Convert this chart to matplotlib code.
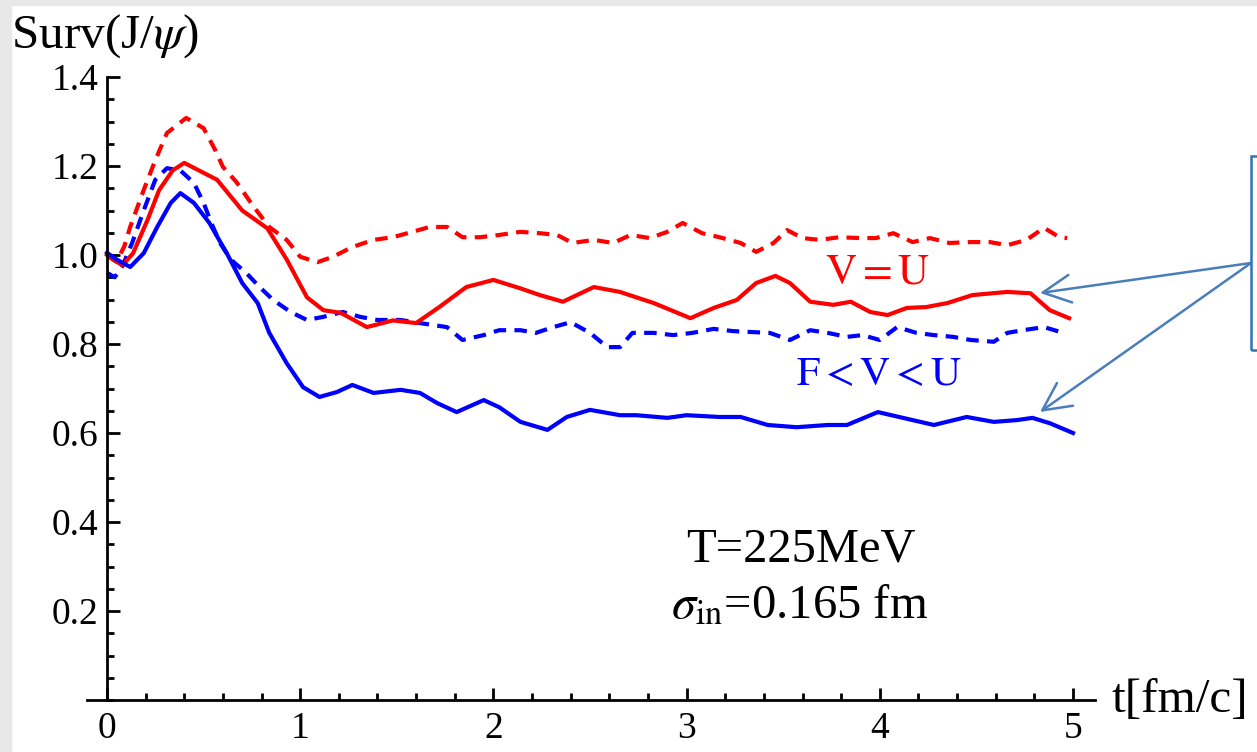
import matplotlib.pyplot as plt
from matplotlib.patches import Rectangle

plt.rcParams['font.family'] = ['Liberation Serif', 'DejaVu Serif']
plt.rcParams['mathtext.fontset'] = 'stix'

# V=U, solid red
t_vu = [0.0, 0.03, 0.08, 0.135, 0.21, 0.27, 0.34, 0.40, 0.57, 0.70, 0.83, 0.93, 1.035,
        1.12, 1.21, 1.345, 1.48, 1.60, 1.72, 1.86, 2.0, 2.14, 2.24, 2.36, 2.52, 2.655,
        2.83, 3.02, 3.14, 3.26, 3.36, 3.46, 3.535, 3.64, 3.76, 3.85, 3.95, 4.04, 4.14,
        4.24, 4.35, 4.48, 4.66, 4.78, 4.88, 4.98]
s_vu = [1.0, 0.99, 0.977, 1.004, 1.079, 1.146, 1.19, 1.207, 1.169, 1.10, 1.06, 0.99, 0.905,
        0.876, 0.87, 0.838, 0.853, 0.847, 0.883, 0.928, 0.944, 0.925, 0.91, 0.895, 0.928, 0.917,
        0.892, 0.858, 0.881, 0.899, 0.937, 0.953, 0.937, 0.895, 0.888, 0.895, 0.872, 0.865, 0.881,
        0.883, 0.892, 0.91, 0.917, 0.914, 0.876, 0.858]

# V=U, dashed red
t_vu2 = [0.0, 0.05, 0.09, 0.12, 0.19, 0.25, 0.31, 0.41, 0.50, 0.56, 0.60, 0.67, 0.76, 0.84,
         0.93, 1.0, 1.09, 1.17, 1.27, 1.38, 1.48, 1.58, 1.67, 1.76, 1.84, 1.93, 2.03, 2.14,
         2.24, 2.33, 2.41, 2.52, 2.62, 2.71, 2.81, 2.90, 2.98, 3.08, 3.17, 3.28, 3.36, 3.45,
         3.52, 3.60, 3.69, 3.79, 3.90, 3.98, 4.07, 4.17, 4.26, 4.36, 4.47, 4.57, 4.66, 4.76,
         4.85, 4.93, 4.97]
s_vu2 = [1.0, 0.985, 1.02, 1.063, 1.146, 1.213, 1.274, 1.308, 1.285, 1.236, 1.198, 1.164, 1.108, 1.063,
         1.034, 0.996, 0.984, 0.996, 1.018, 1.034, 1.04, 1.052, 1.063, 1.063, 1.04, 1.04, 1.045, 1.052,
         1.049, 1.045, 1.027, 1.034, 1.027, 1.045, 1.038, 1.052, 1.072, 1.049, 1.04, 1.027, 1.007, 1.027,
         1.056, 1.038, 1.034, 1.04, 1.038, 1.038, 1.049, 1.029, 1.038, 1.027, 1.029, 1.029, 1.022, 1.034,
         1.061, 1.04, 1.038]

# F<V<U, solid blue
t_fvu = [0.0, 0.05, 0.12, 0.19, 0.26, 0.33, 0.38, 0.45, 0.53, 0.62, 0.70, 0.78, 0.84, 0.93,
         1.015, 1.10, 1.19, 1.27, 1.38, 1.52, 1.62, 1.71, 1.81, 1.95, 2.03, 2.14, 2.28, 2.38,
         2.50, 2.655, 2.74, 2.90, 3.0, 3.17, 3.28, 3.42, 3.57, 3.73, 3.83, 3.99, 4.10, 4.28,
         4.45, 4.59, 4.71, 4.79, 4.88, 5.0]
s_fvu = [1.005, 0.99, 0.973, 1.004, 1.063, 1.117, 1.139, 1.117, 1.072, 1.004, 0.937, 0.892, 0.825, 0.757,
         0.703, 0.681, 0.692, 0.708, 0.69, 0.697, 0.69, 0.667, 0.647, 0.674, 0.658, 0.625, 0.607, 0.636,
         0.652, 0.64, 0.64, 0.634, 0.64, 0.636, 0.636, 0.618, 0.613, 0.618, 0.618, 0.647, 0.636, 0.618,
         0.636, 0.625, 0.629, 0.634, 0.622, 0.60]

# F<V<U, dashed blue
t_fvu2 = [0.0, 0.04, 0.08, 0.13, 0.19, 0.25, 0.31, 0.38, 0.45, 0.50, 0.54, 0.585, 0.64, 0.72,
          0.79, 0.86, 0.95, 1.035, 1.12, 1.22, 1.31, 1.40, 1.52, 1.62, 1.76, 1.84, 1.95, 2.03,
          2.14, 2.22, 2.31, 2.40, 2.50, 2.59, 2.655, 2.72, 2.83, 2.93, 3.03, 3.14, 3.24, 3.33,
          3.43, 3.535, 3.64, 3.73, 3.83, 3.91, 4.0, 4.09, 4.19, 4.28, 4.38, 4.47, 4.59, 4.66,
          4.74, 4.85, 4.95]
s_fvu2 = [0.96, 0.95, 0.975, 1.027, 1.10, 1.169, 1.195, 1.19, 1.162, 1.117, 1.072, 1.027, 0.99, 0.96,
          0.928, 0.899, 0.872, 0.854, 0.861, 0.872, 0.861, 0.854, 0.854, 0.847, 0.838, 0.809, 0.82, 0.831,
          0.831, 0.825, 0.838, 0.849, 0.825, 0.793, 0.793, 0.825, 0.825, 0.82, 0.825, 0.834, 0.829, 0.827,
          0.825, 0.809, 0.831, 0.825, 0.816, 0.82, 0.809, 0.838, 0.825, 0.82, 0.816, 0.809, 0.805, 0.825,
          0.831, 0.838, 0.825]

W, H = 1257, 752
fig = plt.figure(figsize=(W / 100, H / 100), dpi=100)
fig.patch.set_facecolor('white')

# grey frame along the left and top edge
fig.add_artist(Rectangle((0, 0), 11 / W, 1, transform=fig.transFigure, color='#e8e8e8', zorder=0))
fig.add_artist(Rectangle((0, 1 - 5 / H), 1, 5 / H, transform=fig.transFigure, color='#e8e8e8', zorder=0))

ax = fig.add_axes([86.7 / W, 52 / H, 1008.5 / W, 623 / H])
ax.set_xlim(-0.105, 5.115)
ax.set_ylim(0, 1.4)

dash = (0, (3, 2))
kw = dict(lw=3, solid_joinstyle='round', dash_joinstyle='round')
ax.plot(t_vu2, s_vu2, color='#ff0000', ls=dash, **kw)
ax.plot(t_fvu2, s_fvu2, color='#0000ff', ls=dash, **kw)
ax.plot(t_vu, s_vu, color='#ff0000', **kw)
ax.plot(t_fvu, s_fvu, color='#0000ff', **kw)

for s in ['top', 'right']:
    ax.spines[s].set_visible(False)
ax.spines['left'].set_position(('data', 0))
for s in ['left', 'bottom']:
    ax.spines[s].set_linewidth(2)
ax.patch.set_alpha(0)

ax.set_xticks([0, 1, 2, 3, 4, 5])
ax.set_xticks([i * 0.2 for i in range(26)], minor=True)
ax.set_yticks([0.2, 0.4, 0.6, 0.8, 1.0, 1.2, 1.4])
ax.set_yticklabels(['0.2', '0.4', '0.6', '0.8', '1.0', '1.2', '1.4'])
ax.set_yticks([i * 0.05 for i in range(29)], minor=True)
ax.tick_params(which='both', direction='in', width=2, labelsize=27)
ax.tick_params(axis='x', which='major', length=9, pad=8)
ax.tick_params(axis='x', which='minor', length=5)
ax.tick_params(axis='y', which='major', length=9, pad=6)
ax.tick_params(axis='y', which='minor', length=5)

fig.text(11 / W, 1 - 36 / H, r'Surv(J/$\psi$)', fontsize=35.5, va='center', ha='left')
fig.text(1112 / W, 1 - 700 / H, 't[fm/c]', fontsize=35.5, va='center', ha='left')
fig.text(801 / W, 1 - 549 / H, 'T=225MeV', fontsize=35, va='center', ha='center')
fig.text(800 / W, 1 - 606 / H, r'$\sigma_{\rm in}$=0.165 fm', fontsize=35, va='center', ha='center')
fig.text(878 / W, 1 - 273 / H, r'$\mathrm{V}=\mathrm{U}$', fontsize=31, color='#ff0000',
         va='center', ha='center')
fig.text(879 / W, 1 - 375 / H, r'$\mathrm{F}<\mathrm{V}<\mathrm{U}$', fontsize=30, color='#0000ff',
         va='center', ha='center')

# callout box with arrows to the solid curves
fig.add_artist(Rectangle((1251 / W, 1 - 350 / H), 60 / W, 194 / H, transform=fig.transFigure,
                         fill=False, edgecolor='#2e75b6', lw=1.8, clip_on=False))
for tip in [(1040, 293), (1040, 412)]:
    ax.annotate('', xy=(tip[0], H - tip[1]), xycoords='figure pixels',
                xytext=(1251, H - 263), textcoords='figure pixels',
                arrowprops=dict(arrowstyle='->,head_length=1.0,head_width=0.5', color='#4a7ebb',
                                lw=1.8, mutation_scale=20, shrinkA=0, shrinkB=0))

fig.savefig('out.png', dpi=100)
